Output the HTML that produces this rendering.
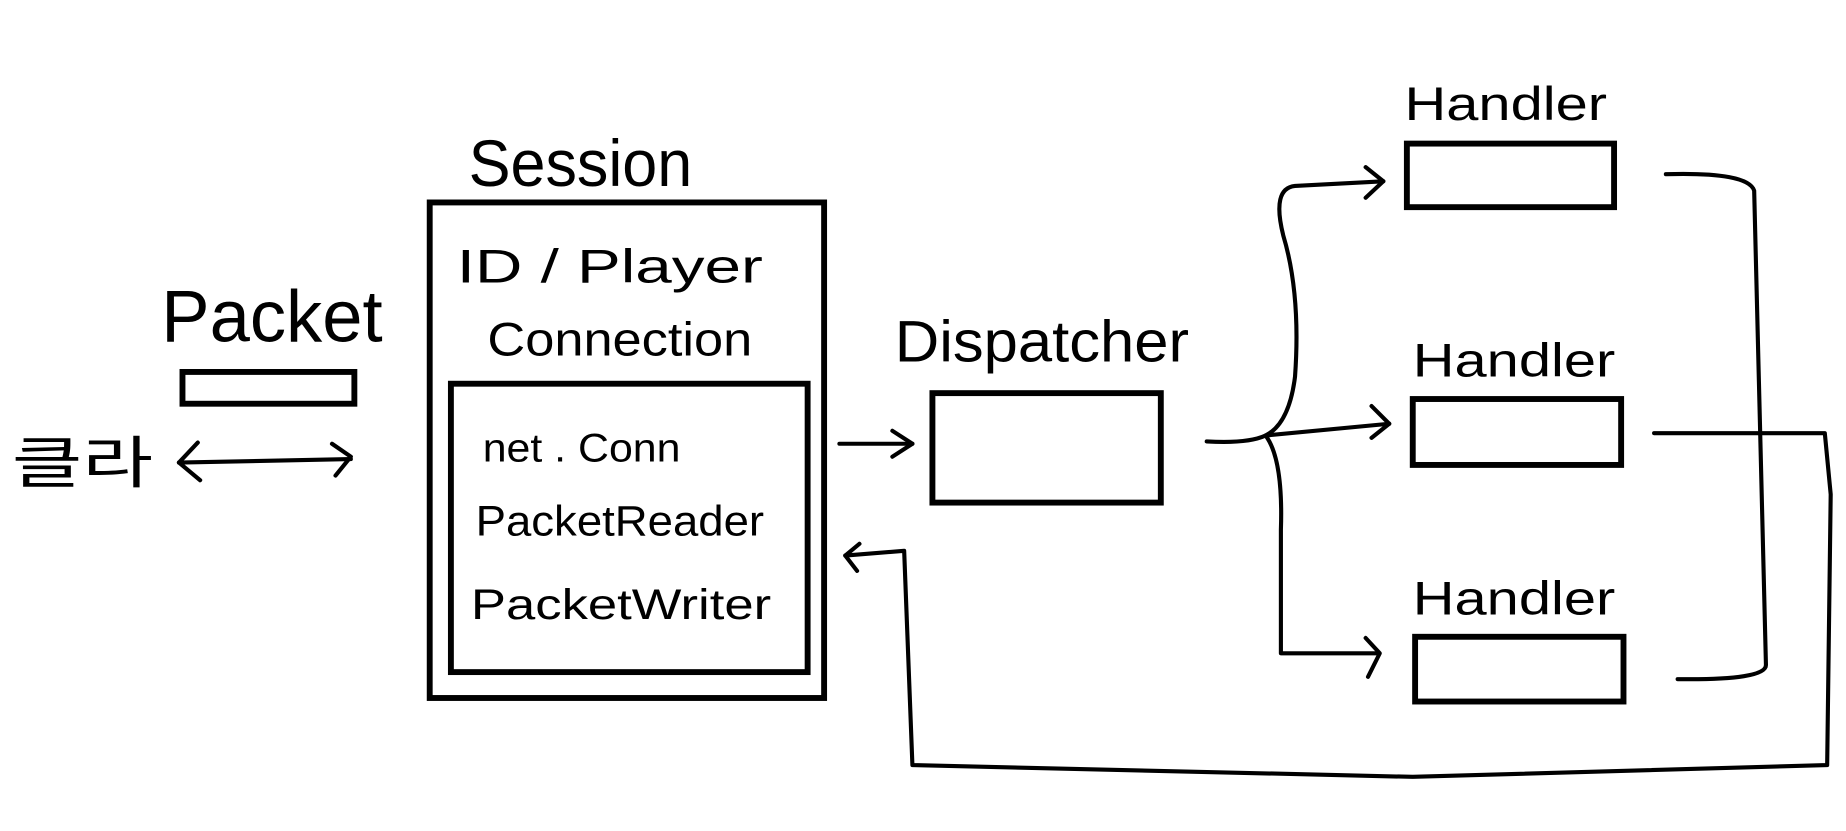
<!DOCTYPE html>
<html><head><meta charset="utf-8"><style>
html,body{margin:0;padding:0;background:#fff;width:1846px;height:831px;overflow:hidden}
svg{display:block}
text{font-family:"Liberation Sans","Noto Sans CJK KR",sans-serif;fill:#000}
</style></head><body>
<svg width="1846" height="831" viewBox="0 0 1568 706" preserveAspectRatio="none" xmlns="http://www.w3.org/2000/svg">
<g fill="none" stroke="#000" stroke-width="5">
<rect x="365" y="172" width="335" height="421"/>
<rect x="383" y="326" width="303" height="245"/>
<rect x="155" y="316" width="146" height="27"/>
<rect x="792" y="334" width="194" height="93"/>
<rect x="1195" y="122" width="176" height="54"/>
<rect x="1200" y="339" width="177" height="56"/>
<rect x="1202" y="541" width="177" height="55"/>
</g>
<g fill="none" stroke="#000" stroke-width="3.5" stroke-linecap="round" stroke-linejoin="round">
<path d="M152 393 L298 390"/>
<path d="M168 376 L152 393 L170 408"/>
<path d="M282 377 L298 388 L285 404"/>
<path d="M713 377 L775 377"/>
<path d="M758 366 L775 377 L758 388"/>
<path d="M1405 368 L1550 368 L1555 420 L1552 650 L1200 660 L775 650 L768 468 L718 472"/>
<path d="M730 462 L718 472 L728 485"/>
<path d="M1415 148 Q1485 146 1490 162 L1500 565 Q1500 578 1425 577"/>
<path d="M1025 375 Q1060 377 1075 370 L1180 360"/>
<path d="M1165 345 L1180 360 L1165 372"/>
<path d="M1075 370 Q1095 360 1100 320 Q1105 250 1090 200 Q1080 160 1100 158 L1175 154"/>
<path d="M1160 142 L1175 154 L1160 168"/>
<path d="M1075 370 Q1090 390 1088 450 L1088 555 L1170 555"/>
<path d="M1160 542 L1172 555 L1162 575"/>
</g>
<text x="398" y="158" font-size="56" textLength="190" lengthAdjust="spacingAndGlyphs">Session</text>
<text x="137" y="290" font-size="62" textLength="188" lengthAdjust="spacingAndGlyphs">Packet</text>
<text x="760" y="307" font-size="50" textLength="250" lengthAdjust="spacingAndGlyphs">Dispatcher</text>
<text x="1193" y="102" font-size="40" textLength="172" lengthAdjust="spacingAndGlyphs">Handler</text>
<text x="1200" y="320" font-size="40" textLength="172" lengthAdjust="spacingAndGlyphs">Handler</text>
<text x="1200" y="522" font-size="40" textLength="172" lengthAdjust="spacingAndGlyphs">Handler</text>
<text x="388" y="240" font-size="40" textLength="260" lengthAdjust="spacingAndGlyphs">ID / Player</text>
<text x="414" y="302" font-size="40" textLength="225" lengthAdjust="spacingAndGlyphs">Connection</text>
<text x="410" y="392" font-size="34" textLength="168" lengthAdjust="spacingAndGlyphs">net . Conn</text>
<text x="404" y="455" font-size="36" textLength="245" lengthAdjust="spacingAndGlyphs">PacketReader</text>
<text x="400" y="526" font-size="36" textLength="255" lengthAdjust="spacingAndGlyphs">PacketWriter</text>
<text x="10" y="410" font-size="48" textLength="120" lengthAdjust="spacingAndGlyphs">클라</text>
</svg>
</body></html>
